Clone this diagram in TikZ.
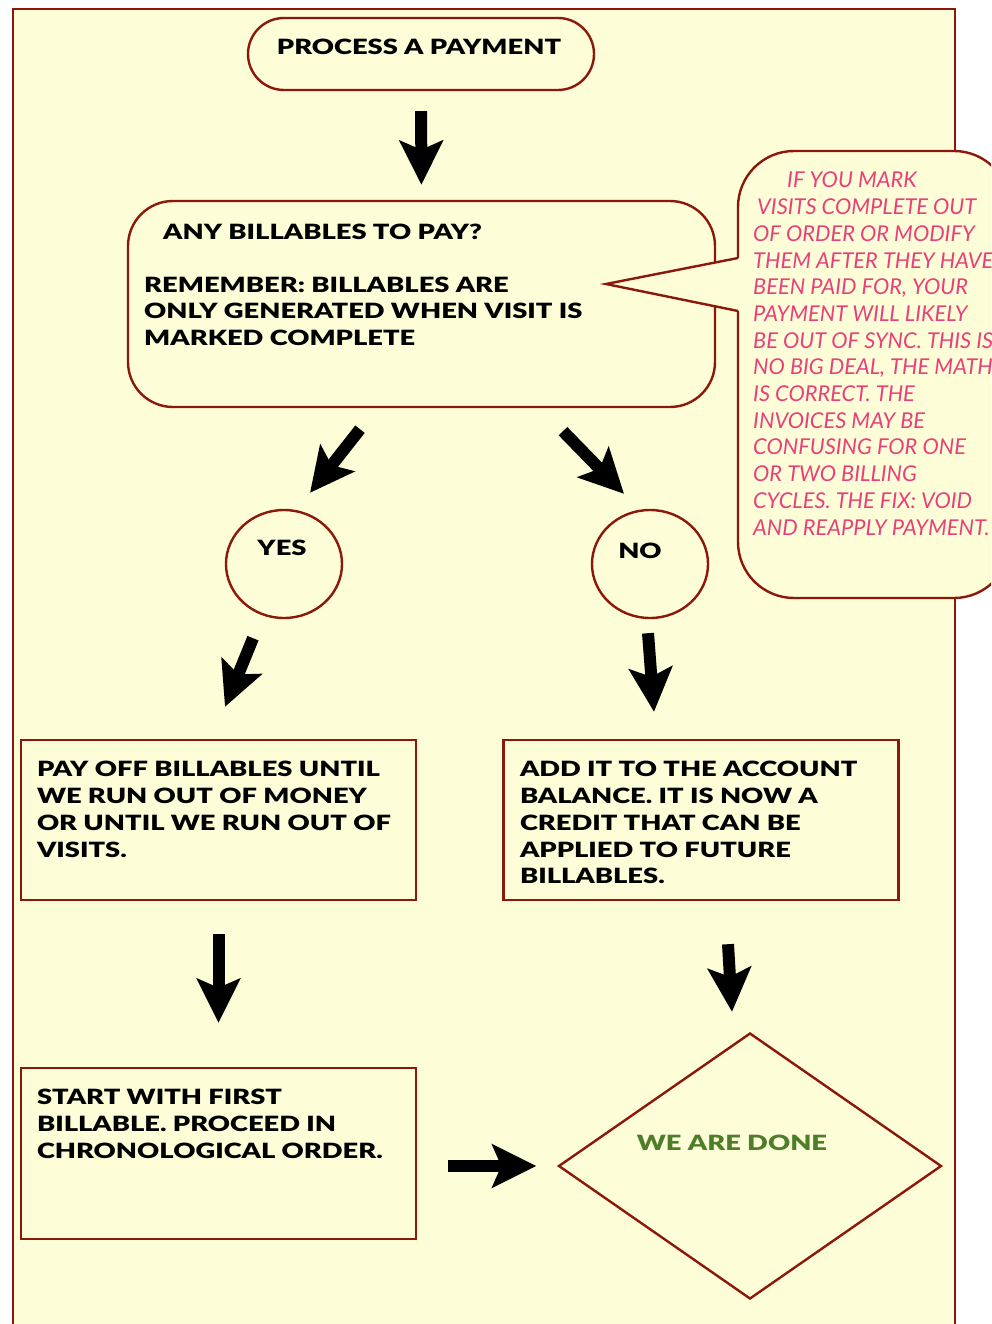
\documentclass[tikz,border=0pt]{standalone}
\usepackage{fontspec}
\setmainfont{Lato}
\newfontfamily\heavyfont{Lato Black}[FakeStretch=1.3]
\usetikzlibrary{arrows.meta,shapes.geometric,positioning}
\definecolor{panelbg}{RGB}{253,253,216}
\definecolor{frame}{RGB}{139,24,10}
\definecolor{notepink}{RGB}{232,64,122}
\definecolor{donegreen}{RGB}{78,126,44}
\newcommand{\flowfont}{\heavyfont\fontsize{21}{26.7}\selectfont}
\newcommand{\notefont}{\itshape\fontsize{21.8}{26.7}\selectfont}

\begin{document}
\begin{tikzpicture}[x=1pt, y=1pt,
    every node/.style={inner sep=0pt},
    frameline/.style={draw=frame, line width=2.4pt, fill=panelbg},
    flowbox/.style={frameline, rectangle, minimum width=395pt, minimum height=160pt},
    bigarrow/.style={line width=12pt, -{Stealth[length=44pt, width=43pt, inset=9pt]}},
    flowtext/.style={align=left, font=\flowfont},
    notetext/.style={align=left, font=\notefont, text=notepink}]
  \clip (0,0) rectangle (991,-1324);
  \fill[white] (0,0) rectangle (991,-1324);
  % panel
  \draw[frameline] (13,-9) rectangle (955,-1340);

  % shapes
  \node[frameline, minimum width=346pt, minimum height=72pt, rounded corners=36pt] (start) at (421,-54) {};
  \node[frameline, minimum width=587pt, minimum height=206pt, rounded corners=45pt] (decision) at (421.5,-304) {};
  \node[frameline, ellipse, minimum width=116pt, minimum height=108pt] (yes) at (284,-564) {};
  \node[frameline, ellipse, minimum width=116pt, minimum height=108pt] (no) at (650,-564) {};
  \node[flowbox] (payoff) at (218.5,-820) {};
  \node[flowbox] (addbal) at (701,-820) {};
  \node[flowbox, minimum height=171pt] (firstbill) at (218.5,-1153.5) {};
  \node[frameline, diamond, aspect=1.44, minimum width=383pt, minimum height=266pt] (done) at (750,-1166) {};

  % callout with its pointer
  \draw[frameline, rounded corners=56pt] (738,-151) rectangle (1010,-598);
  \fill[panelbg] (740,-258) -- (606,-284) -- (740,-311) -- cycle;
  \draw[frame, line width=2.4pt] (738,-258) -- (606,-284) -- (738,-311);

  % texts
  \node[flowtext, anchor=north] (starttxt) at (419,-39) {PROCESS A PAYMENT};
  \node[flowtext, anchor=north west] (asktxt) at (163,-223.5) {ANY BILLABLES TO PAY?};
  \node[flowtext, anchor=north west] (remindtxt) at (144,-276.5) {REMEMBER: BILLABLES ARE\\ONLY GENERATED WHEN VISIT IS\\MARKED COMPLETE};
  \node[flowtext, anchor=north] (yestxt) at (282,-540) {YES};
  \node[flowtext, anchor=north] (notxt) at (640,-543) {NO};
  \node[flowtext, anchor=north west] (payofftxt) at ([shift={(17,-22.5)}]payoff.north west)
    {PAY OFF BILLABLES UNTIL\\WE RUN OUT OF MONEY\\OR UNTIL WE RUN OUT OF\\VISITS.};
  \node[flowtext, anchor=north west] (addbaltxt) at ([shift={(17.5,-22.5)}]addbal.north west)
    {ADD IT TO THE ACCOUNT\\BALANCE. IT IS NOW A\\CREDIT THAT CAN BE\\APPLIED TO FUTURE\\BILLABLES.};
  \node[flowtext, anchor=north west] (firstbilltxt) at ([shift={(17,-22.5)}]firstbill.north west)
    {START WITH FIRST\\BILLABLE. PROCEED IN\\CHRONOLOGICAL ORDER.};
  \node[flowtext, anchor=north, text=donegreen] (donetxt) at (732,-1135) {WE ARE DONE};
  \node[notetext, anchor=north west] (notetxt) at (753,-172)
    {\hspace*{34pt}IF YOU MARK\\\hspace*{4pt}VISITS COMPLETE OUT\\OF ORDER OR MODIFY\\THEM AFTER THEY HAVE\\BEEN PAID FOR, YOUR\\PAYMENT WILL LIKELY\\BE OUT OF SYNC. THIS IS\\NO BIG DEAL, THE MATH\\IS CORRECT. THE\\INVOICES MAY BE\\CONFUSING FOR ONE\\OR TWO BILLING\\CYCLES. THE FIX: VOID\\AND REAPPLY PAYMENT.};

  % arrows
  \draw[bigarrow, shorten <=20pt, shorten >=15pt] (start.south) -- (decision.north);
  \draw[bigarrow] ([shift={(-61.5,-21)}]decision.south) -- ([shift={(26,16)}]yes.north);
  \draw[bigarrow] ([shift={(141.5,-23)}]decision.south) -- ([shift={(-26,15)}]no.north);
  \draw[bigarrow] ([shift={(-31,-19)}]yes.south) -- ([shift={(6.5,32)}]payoff.north);
  \draw[bigarrow] ([shift={(-2,-14)}]no.south) -- ([shift={(-47,27)}]addbal.north);
  \draw[bigarrow, shorten <=33pt, shorten >=44pt] (payoff.south) -- (firstbill.north);
  \draw[bigarrow] ([shift={(27,-43)}]addbal.south) -- ([shift={(-18,20)}]done.north);
  \draw[bigarrow, shorten <=31pt, shorten >=21pt] (firstbill.east |- done.west) -- (done.west);
\end{tikzpicture}
\end{document}
